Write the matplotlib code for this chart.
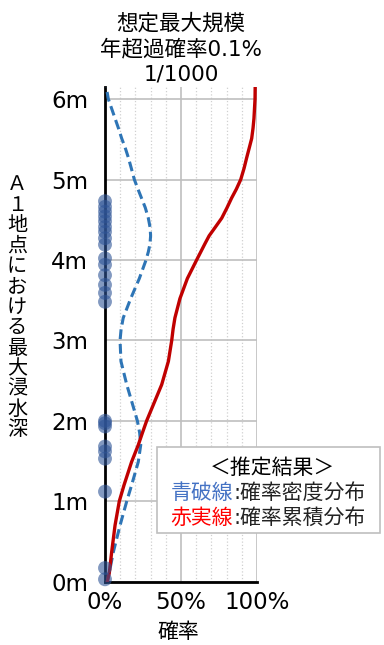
import numpy as np
import matplotlib
matplotlib.use("Agg")
import matplotlib.pyplot as plt
from matplotlib.patches import Rectangle

plt.rcParams['font.family'] = ['DejaVu Sans', 'Noto Sans CJK JP']

# depth (m) and curve values (%)
depth = [0, 0.12, 0.37, 0.7, 1.0, 1.2, 1.49, 1.7, 1.85, 2.0, 2.2, 2.45, 2.74, 3.0, 3.14,
         3.28, 3.52, 3.77, 4.0, 4.1, 4.2, 4.3, 4.4, 4.52, 4.65, 4.77, 4.88, 5.0, 5.14,
         5.27, 5.4, 5.51, 5.64, 5.76, 6.0, 6.15]
density = [1.5, 2.9, 5.5, 9.9, 14.3, 17.5, 21.9, 23.5, 22.8, 21.3, 18.2, 14.3, 10.5, 9.9, 10.6,
           12, 16.9, 22.6, 27, 28.5, 29.6, 30, 29.7, 28.5, 26.5, 24, 21.7, 19.3, 17.3,
           15.4, 13.2, 11, 8.8, 6.6, 2.2, 0.8]
cumulative = [1.5, 2.9, 4.4, 6.6, 9.4, 12.5, 17.5, 21.9, 24.6, 27.4, 31.8, 37.3, 41.7, 43.9, 44.8,
              46, 49.3, 54.2, 60.3, 63, 65.7, 68.5, 72.3, 76.8, 80.3, 83.3, 86.4, 89.3, 91.5,
              93.2, 95, 96.5, 97.4, 98, 98.7, 98.8]
# observed max depths (plotted on the 0% line)
samples = [0.03, 0.17, 1.12, 1.53, 1.62, 1.68, 1.93, 1.97, 2.0,
           3.48, 3.59, 3.69, 3.81, 3.94, 4.02, 4.19, 4.27, 4.35, 4.41,
           4.48, 4.54, 4.6, 4.66, 4.73]

yticks = [0, 1, 2, 3, 4, 5, 6]
ytick_labels = ['0m', '1m', '2m', '3m', '4m', '5m', '6m']
xticks = [0, 50, 100]
xtick_labels = ['0%', '50%', '100%']

title_lines = ['想定最大規模', '年超過確率0.1%', '1/1000']
ylabel_text = 'Ａ１地点における最大浸水深'
legend_title = '＜推定結果＞'
legend_rows = [('青破線', ':確率密度分布', '#4472C4'),
               ('赤実線', ':確率累積分布', '#FF0000')]

W, H = 384, 645
fig = plt.figure(figsize=(W / 100, H / 100), dpi=100)
ax = fig.add_axes([105 / W, 63.3 / H, 152 / W, 494.7 / H])

ax.set_xlim(0, 100)
ax.set_ylim(0, 6.15)

ax.set_xticks(np.arange(0, 101, 10), minor=True)
ax.set_xticks(xticks)
ax.set_xticklabels(xtick_labels, fontsize=16.5)
ax.set_yticks(yticks)
ax.set_yticklabels(ytick_labels, fontsize=16.5)
ax.tick_params(axis='both', which='both', length=0)
ax.tick_params(axis='y', pad=12)
ax.tick_params(axis='x', pad=7)

ax.grid(which='major', axis='both', color='#BFBFBF', linewidth=1.2)
ax.grid(which='minor', axis='x', color='#D0D0D0', linewidth=0.9, linestyle=':')
ax.set_axisbelow(True)

for s in ['top', 'right']:
    ax.spines[s].set_visible(False)
for s in ['left', 'bottom']:
    ax.spines[s].set_linewidth(2)
    ax.spines[s].set_color('black')
    ax.spines[s].set_zorder(2)

ax.scatter(np.zeros(len(samples)), samples, s=100, color='#2F5597', alpha=0.6,
           edgecolors='none', zorder=4, clip_on=False)
ax.plot(density, depth, color='#2E75B6', linewidth=2.2, linestyle=(0, (3.2, 1.6)), zorder=3)
ax.plot(cumulative, depth, color='#C00000', linewidth=2.4, zorder=3,
        solid_joinstyle='round')

# title
for i, line in enumerate(title_lines):
    fig.text(181 / W, 1 - (23 + 26 * i) / H, line, fontsize=15.5, ha='center', va='center')

# vertical y label
for i, ch in enumerate(ylabel_text):
    fig.text(17 / W, 1 - (185 + 20.4 * i) / H, ch, fontsize=14.5, ha='center', va='center')

fig.text(178 / W, 1 - 632 / H, '確率', fontsize=15, ha='center', va='center')

# legend box
fig.add_artist(Rectangle((157 / W, 1 - 533 / H), (380 - 157) / W, (533 - 447) / H,
                         transform=fig.transFigure, facecolor='white',
                         edgecolor='#BFBFBF', linewidth=1.2, zorder=5))
fig.text(272 / W, 1 - 468 / H, legend_title, fontsize=15, ha='center', va='center', zorder=6)
for i, (head, tail, col) in enumerate(legend_rows):
    yy = 1 - (493 + 25 * i) / H
    fig.text(233 / W, yy, head, fontsize=15, color=col, ha='right', va='center', zorder=6)
    fig.text(233 / W, yy, tail, fontsize=15, color='#222222', ha='left', va='center', zorder=6)

fig.savefig('out.png', dpi=100)
